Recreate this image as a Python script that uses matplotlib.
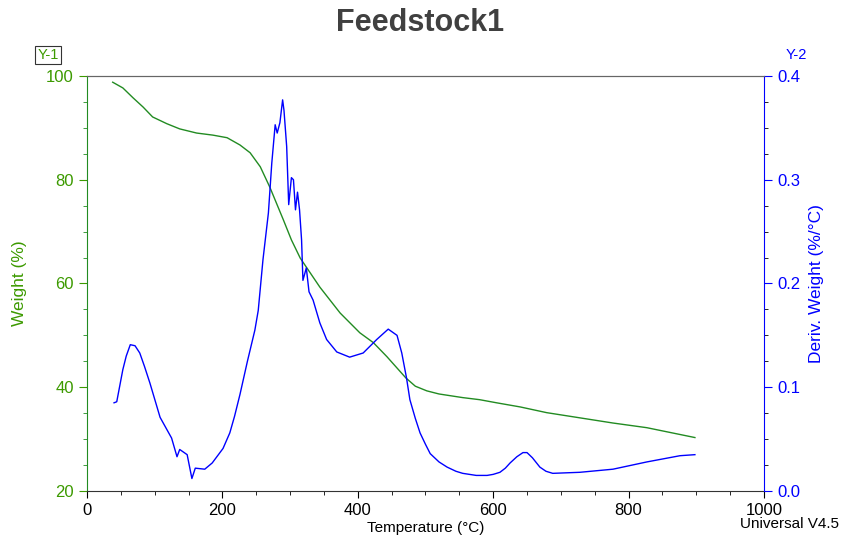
import numpy as np
import matplotlib
matplotlib.use("Agg")
import matplotlib.pyplot as plt
from matplotlib.ticker import MultipleLocator, FormatStrFormatter

plt.rcParams["font.family"] = ["Liberation Sans", "DejaVu Sans"]

# weight curve (Y-1, %)
T_w = [38, 53, 68, 83, 97, 118, 137, 162, 186, 207, 226, 241, 256, 270, 290,
       302, 315, 344, 374, 403, 423, 443, 471, 485, 502, 520, 555, 580, 605,
       640, 679, 728, 777, 827, 898]
weight = [98.8, 97.7, 95.8, 94.0, 92.1, 90.8, 89.8, 89.0, 88.6, 88.1, 86.7,
          85.2, 82.5, 78.6, 72.3, 68.4, 64.9, 59.3, 54.3, 50.5, 48.6, 45.9,
          41.8, 40.2, 39.3, 38.7, 38.0, 37.6, 37.0, 36.2, 35.1, 34.1, 33.1,
          32.2, 30.3]

# derivative curve (Y-2, %/°C)
T_d = [40, 44, 53, 58, 64, 71, 78, 85, 93, 108, 125, 133, 137, 148, 155, 160,
       174, 185, 201, 211, 218, 226, 237, 248, 253, 260, 268, 273, 278, 281,
       285, 289, 291, 295, 298, 302, 305, 308, 311, 314, 317, 319, 324, 328,
       334, 344, 354, 369, 388, 408, 428, 445, 458, 465, 472, 477, 485, 492,
       500, 507, 520, 532, 545, 555, 575, 591, 600, 610, 618, 625, 635, 644,
       650, 658, 669, 678, 688, 728, 777, 827, 876, 898]
deriv = [0.085, 0.086, 0.117, 0.130, 0.141, 0.140, 0.133, 0.120, 0.104, 0.071,
         0.051, 0.033, 0.040, 0.035, 0.012, 0.022, 0.021, 0.027, 0.041, 0.056,
         0.072, 0.093, 0.125, 0.155, 0.174, 0.223, 0.268, 0.316, 0.353, 0.345,
         0.355, 0.377, 0.367, 0.332, 0.276, 0.302, 0.300, 0.271, 0.288, 0.271,
         0.242, 0.203, 0.215, 0.192, 0.184, 0.162, 0.146, 0.134, 0.129, 0.133,
         0.146, 0.156, 0.150, 0.133, 0.109, 0.088, 0.070, 0.056, 0.045, 0.036,
         0.028, 0.023, 0.019, 0.017, 0.015, 0.015, 0.016, 0.018, 0.022, 0.027,
         0.033, 0.037, 0.037, 0.032, 0.023, 0.019, 0.017, 0.018, 0.021, 0.028,
         0.034, 0.035]

GREEN = "#228b22"
LABEL_GREEN = "#3c9a00"
BLUE = "#0000ff"

fig = plt.figure(figsize=(8.41, 5.37), dpi=100)
ax = fig.add_axes([0.1034, 0.0857, 0.805, 0.7728])
ax2 = ax.twinx()

ax.plot(T_w, weight, color=GREEN, lw=1.0)
ax2.plot(T_d, deriv, color=BLUE, lw=1.0)

ax.set_xlim(0, 1000)
ax.set_ylim(20, 100)
ax2.set_ylim(0, 0.4)
ax.xaxis.set_major_locator(MultipleLocator(200))
ax.xaxis.set_minor_locator(MultipleLocator(50))
ax.yaxis.set_major_locator(MultipleLocator(20))
ax.yaxis.set_minor_locator(MultipleLocator(5))
ax2.yaxis.set_major_locator(MultipleLocator(0.1))
ax2.yaxis.set_minor_locator(MultipleLocator(0.025))
ax2.yaxis.set_major_formatter(FormatStrFormatter("%.1f"))

ax.tick_params(axis="x", labelsize=12, colors="black", length=5)
ax.tick_params(axis="x", which="minor", length=3)
ax.tick_params(axis="y", labelsize=12, colors=LABEL_GREEN, length=6)
ax.tick_params(axis="y", which="minor", length=3, colors=GREEN)
ax2.tick_params(axis="y", labelsize=12, colors=BLUE, length=6)
ax2.tick_params(axis="y", which="minor", length=3)

ax.spines["left"].set_color(GREEN)
ax2.spines["left"].set_visible(False)
ax2.spines["right"].set_color(BLUE)
ax.spines["right"].set_visible(False)
ax.spines["top"].set_color("#666666")
ax2.spines["top"].set_color("#666666")
ax.spines["bottom"].set_color("#333333")
ax2.spines["bottom"].set_visible(False)

ax.set_xlabel("Temperature (°C)", fontsize=11, labelpad=2)
ax.set_ylabel("Weight (%)", fontsize=12.5, color=LABEL_GREEN, labelpad=14)
ax2.set_ylabel("Deriv. Weight (%/°C)", fontsize=12.5, color=BLUE, labelpad=6)

fig.suptitle("Feedstock1", fontsize=22, fontweight="bold", color="#404040", y=0.985)
fig.text(0.057, 0.898, "Y-1", fontsize=10.5, color=LABEL_GREEN, ha="center", va="center",
         bbox=dict(facecolor="white", edgecolor="#333333", pad=1.5, lw=0.8))
fig.text(0.947, 0.898, "Y-2", fontsize=10.5, color=BLUE, ha="center", va="center")
fig.text(0.998, 0.012, "Universal V4.5", fontsize=11, color="black",
         ha="right", va="bottom")

fig.savefig("out.png", dpi=100)
